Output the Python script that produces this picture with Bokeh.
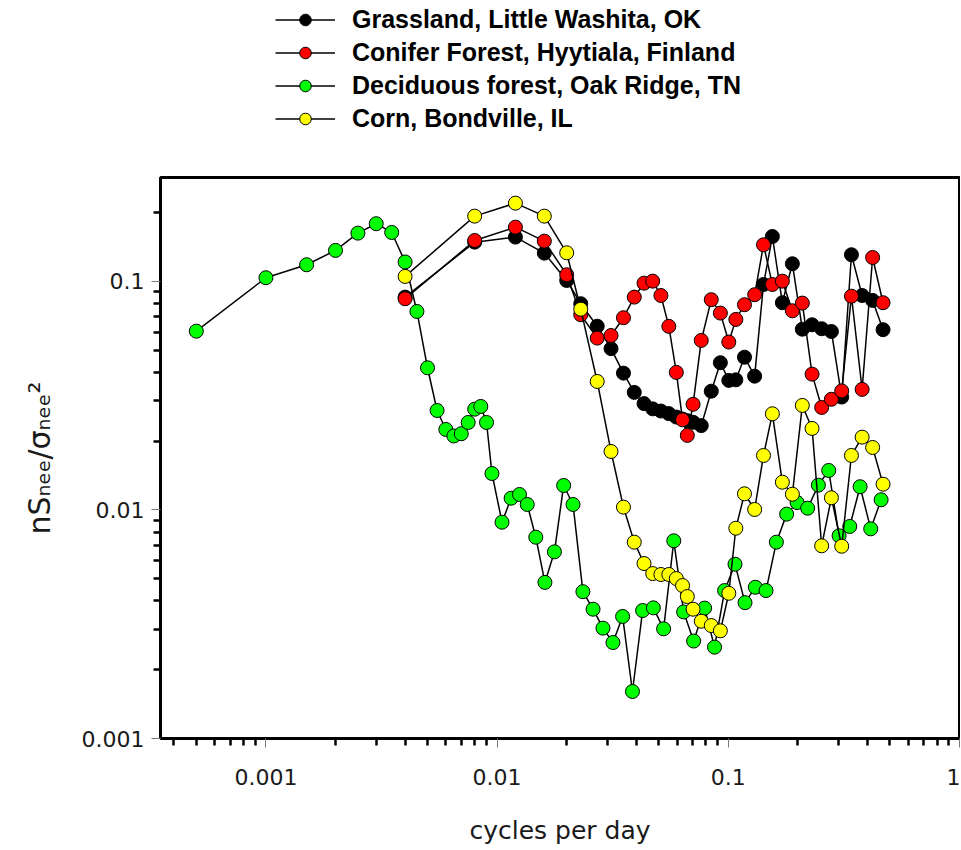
from bokeh.plotting import figure
from bokeh.layouts import column
from bokeh.models import Range1d, FixedTicker, CustomJSTickFormatter, Legend, LegendItem
from bokeh.embed import file_html
from bokeh.resources import INLINE

# ---------------- data ----------------
series_names = [
    "Grassland, Little Washita, OK",
    "Conifer Forest, Hyytiala, Finland",
    "Deciduous forest, Oak Ridge, TN",
    "Corn, Bondville, IL",
]
series_colors = ["#000000", "#ff0000", "#00ff00", "#ffff00"]

# shared frequency grid (cycles per day) for grassland, conifer and corn
freq_grid = [0.004, 0.008, 0.012, 0.016, 0.020, 0.0230, 0.0271, 0.0311, 0.0352, 0.0392,
             0.0432, 0.0471, 0.0511, 0.0553, 0.0596, 0.0634, 0.0665, 0.0704, 0.0764, 0.0844,
             0.0924, 0.1005, 0.1078, 0.1175, 0.1300, 0.1420, 0.1551, 0.1713, 0.1893, 0.2090,
             0.2303, 0.2534, 0.2792, 0.3094, 0.3409, 0.3792, 0.4209, 0.4670]

grassland = [0.0854, 0.1486, 0.1563, 0.1330, 0.1010, 0.0799, 0.0637, 0.0508, 0.0397, 0.0327,
             0.0292, 0.0277, 0.0271, 0.0264, 0.0255, 0.0250, 0.0246, 0.0242, 0.0234, 0.0331,
             0.0441, 0.0369, 0.0371, 0.0466, 0.0385, 0.0970, 0.1573, 0.0807, 0.1195, 0.0618,
             0.0646, 0.0621, 0.0604, 0.0312, 0.1309, 0.0868, 0.0826, 0.0615]

conifer = [0.0840, 0.1511, 0.1728, 0.1501, 0.1070, 0.0715, 0.0565, 0.0580, 0.0694, 0.0854,
           0.0983, 0.1003, 0.0868, 0.0636, 0.0400, 0.0248, 0.0212, 0.0290, 0.0552, 0.0832,
           0.0727, 0.0543, 0.0682, 0.0791, 0.0875, 0.1447, 0.0970, 0.1003, 0.0744, 0.0804,
           0.0393, 0.0281, 0.0305, 0.0332, 0.0862, 0.0337, 0.1273, 0.0807]

corn = [0.1052, 0.1931, 0.2201, 0.1931, 0.1335, 0.0756, 0.0365, 0.01803, 0.01029, 0.00723,
        0.00583, 0.00527, 0.00522, 0.00522, 0.00501, 0.00467, 0.00418, 0.00368, 0.00326, 0.00312,
        0.00296, 0.00432, 0.00832, 0.01177, 0.01005, 0.01732, 0.02636, 0.01323, 0.01172, 0.02867,
        0.02274, 0.00697, 0.01131, 0.00694, 0.01732, 0.02083, 0.01877, 0.01297]

freq_deciduous = [0.0005, 0.001, 0.0015, 0.002, 0.0025, 0.003, 0.0035, 0.004, 0.0045, 0.005,
                  0.0055, 0.006, 0.0065, 0.007, 0.0075, 0.008, 0.0085, 0.009, 0.0095, 0.0105,
                  0.0115, 0.0125, 0.0135, 0.0147, 0.0161, 0.0177, 0.0194, 0.0213, 0.0235, 0.0260,
                  0.0287, 0.0317, 0.0349, 0.0385, 0.0426, 0.0474, 0.0525, 0.0581, 0.0641, 0.0708,
                  0.0790, 0.0872, 0.0964, 0.1069, 0.1181, 0.1309, 0.1456, 0.1614, 0.1788, 0.1984,
                  0.2204, 0.2452, 0.2718, 0.3014, 0.3351, 0.3716, 0.4130, 0.4581]

deciduous = [0.0606, 0.1038, 0.1183, 0.1367, 0.1627, 0.1789, 0.1638, 0.1217, 0.0739, 0.0419,
             0.02725, 0.02251, 0.02108, 0.02156, 0.02415, 0.02761, 0.02838, 0.02415, 0.01444, 0.00884,
             0.01126, 0.01169, 0.01057, 0.0076, 0.00482, 0.00656, 0.0128, 0.01057, 0.00439, 0.00368,
             0.00304, 0.00263, 0.00342, 0.001606, 0.00363, 0.00373, 0.00302, 0.00733, 0.00358, 0.00267,
             0.00372, 0.00251, 0.00444, 0.00579, 0.00393, 0.00459, 0.00444, 0.00723, 0.00959, 0.01078,
             0.01018, 0.01284, 0.01489, 0.00771, 0.00847, 0.01264, 0.00827, 0.01108]

x_major = [0.001, 0.01, 0.1, 1.0]
x_minor = [m * d for d in (0.0001, 0.001, 0.01, 0.1) for m in range(2, 10)]
y_major = [0.001, 0.01, 0.1]
y_minor = [m * d for d in (0.001, 0.01, 0.1) for m in range(2, 10)]

x_title = "cycles per day"
y_title = "nS\u2099\u2091\u2091/\u03c3\u2099\u2091\u2091\u00b2"

xs = [freq_grid, freq_grid, freq_deciduous, freq_grid]
ys = [grassland, conifer, deciduous, corn]

# ---------------- main figure ----------------
p = figure(width=960, height=709, x_axis_type="log", y_axis_type="log",
           x_range=Range1d(0.00035, 1.0), y_range=Range1d(0.001, 0.285),
           output_backend="svg", toolbar_location=None,
           min_border_left=160, min_border_right=1, min_border_top=37, min_border_bottom=111)
p.grid.visible = False
p.outline_line_color = "black"
p.outline_line_width = 3
p.outline_line_alpha = 1.0

fmt = CustomJSTickFormatter(code="return String(tick);")
for ax, maj, mnr in ((p.xaxis[0], x_major, x_minor), (p.yaxis[0], y_major, y_minor)):
    ax.ticker = FixedTicker(ticks=maj, minor_ticks=mnr)
    ax.formatter = fmt
    ax.axis_line_color = None
    ax.major_tick_line_color = "#777777"
    ax.major_tick_line_width = 1
    ax.major_tick_in = 0
    ax.major_tick_out = 9
    ax.minor_tick_line_color = "black"
    ax.minor_tick_line_width = 2.5
    ax.minor_tick_in = 0
    ax.minor_tick_out = 7
    ax.major_label_text_font = "DejaVu Sans"
    ax.major_label_text_font_size = "22px"
    ax.major_label_text_color = "#1a1a1a"
    ax.axis_label_text_font = "DejaVu Sans"
    ax.axis_label_text_font_style = "normal"
    ax.axis_label_text_color = "#1a1a1a"

p.xaxis.major_label_standoff = 21
p.xaxis.axis_label = x_title
p.xaxis.axis_label_text_font_size = "25px"
p.xaxis.axis_label_standoff = 28

p.yaxis.major_label_standoff = 7
p.yaxis.axis_label = y_title
p.yaxis.axis_label_text_font_size = "30px"
p.yaxis.axis_label_standoff = 22

for color, x, y in zip(series_colors, xs, ys):
    p.line(x, y, line_color="black", line_width=1.5)
    p.scatter(x, y, size=14, fill_color=color, line_color="black", line_width=1)

# ---------------- legend strip (separate figure above the plot) ----------------
# its ranges lie away from the data, so only the legend entries show
lg = figure(width=960, height=140, output_backend="svg", toolbar_location=None,
            x_range=Range1d(10, 11), y_range=Range1d(10, 11),
            x_axis_location=None, y_axis_location=None,
            min_border_left=0, min_border_right=0, min_border_top=0, min_border_bottom=0)
lg.grid.visible = False
lg.outline_line_color = None

items = []
for name, color, x, y in zip(series_names, series_colors, xs, ys):
    lr = lg.line(x, y, line_color="black", line_width=1.5)
    sr = lg.scatter(x, y, size=14, fill_color=color, line_color="black", line_width=1)
    items.append(LegendItem(label=name, renderers=[lr, sr]))

legend = Legend(items=items, location=(115, 7), orientation="vertical",
                glyph_width=60, glyph_height=29, label_height=29, label_standoff=17, spacing=4,
                padding=0, margin=0, border_line_color=None, background_fill_alpha=0,
                label_text_font="Liberation Sans", label_text_font_style="bold",
                label_text_font_size="25px", label_text_color="black")
lg.add_layout(legend)

layout = column(lg, p, spacing=0)
open("out.html", "w").write(file_html(layout, INLINE))
